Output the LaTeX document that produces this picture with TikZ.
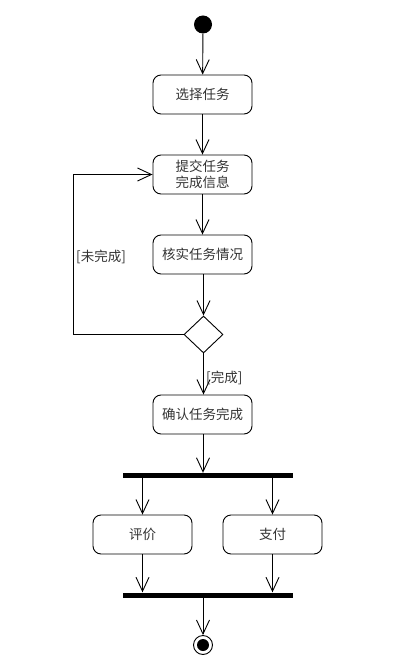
\documentclass[tikz,border=0pt]{standalone}
\usepackage{fontspec}
\newfontfamily\cjk{Noto Sans CJK SC}
\usetikzlibrary{arrows.meta,shapes.geometric}
\begin{document}
\begin{tikzpicture}[x=1pt,y=-1pt,
  every node/.style={font=\cjk\fontsize{13.5}{16}\selectfont, text=black!80},
  act/.style={draw, line width=0.9pt, rounded corners=8pt, minimum width=99pt, minimum height=39pt, inner sep=0pt, align=center},
  bar/.style={fill=black, draw=none, minimum width=170pt, minimum height=5pt, inner sep=0pt},
  flow/.style={line width=0.9pt, -{Straight Barb[length=14pt,width=13pt,line width=0.9pt]}},
  lbl/.style={inner sep=0pt}]
\useasboundingbox (0,0) rectangle (402,668);
\node[circle, fill=black, minimum size=18pt, inner sep=0pt] (start) at (203,24.5) {};
\node[act] (a1) at (202.5,94.5) {选择任务};
\node[act, font=\cjk\fontsize{13.5}{16}\selectfont] (a2) at (202.5,174.5) {提交任务\\完成信息};
\node[act] (a3) at (202.5,254.5) {核实任务情况};
\node[diamond, draw, line width=0.9pt, minimum width=39pt, minimum height=37pt, inner sep=0pt] (d) at (203.5,334.5) {};
\node[act] (a4) at (202.5,414.5) {确认任务完成};
\node[bar] (f) at (208,475.5) {};
\node[act] (a5) at (142.5,534.5) {评价};
\node[act] (a6) at (272.5,534.5) {支付};
\node[bar] (j) at (208,595) {};
\node[circle, draw, line width=0.9pt, minimum size=19pt, inner sep=0pt] (end) at (203,645) {};
\node[circle, fill=black, minimum size=12pt, inner sep=0pt] (endin) at (203,645) {};
\coordinate (c1) at (73,334.5);
\coordinate (c2) at (73,174.5);
\draw[flow] (start) -- (a1);
\draw[flow] (a1) -- (a2);
\draw[flow] (a2) -- (a3);
\draw[flow] (a3.south -| d.north) -- (d.north);
\draw[flow] (d.west) -- (c1) -- (c2) -- (a2.west);
\draw[flow] (d.south) -- (a4.north -| d.south);
\draw[flow] (a4.south -| 203,0) -- (f.north -| 203,0);
\draw[flow] (f.south -| a5.north) -- (a5.north);
\draw[flow] (f.south -| a6.north) -- (a6.north);
\draw[flow] (a5.south) -- (a5.south |- j.north);
\draw[flow] (a6.south) -- (a6.south |- j.north);
\draw[flow] (j.south -| 203,0) -- (end.north);
\node[lbl, anchor=west] (l1) at (76,257) {[未完成]};
\node[lbl, anchor=west] (l2) at (206,378) {[完成]};
\end{tikzpicture}
\end{document}
